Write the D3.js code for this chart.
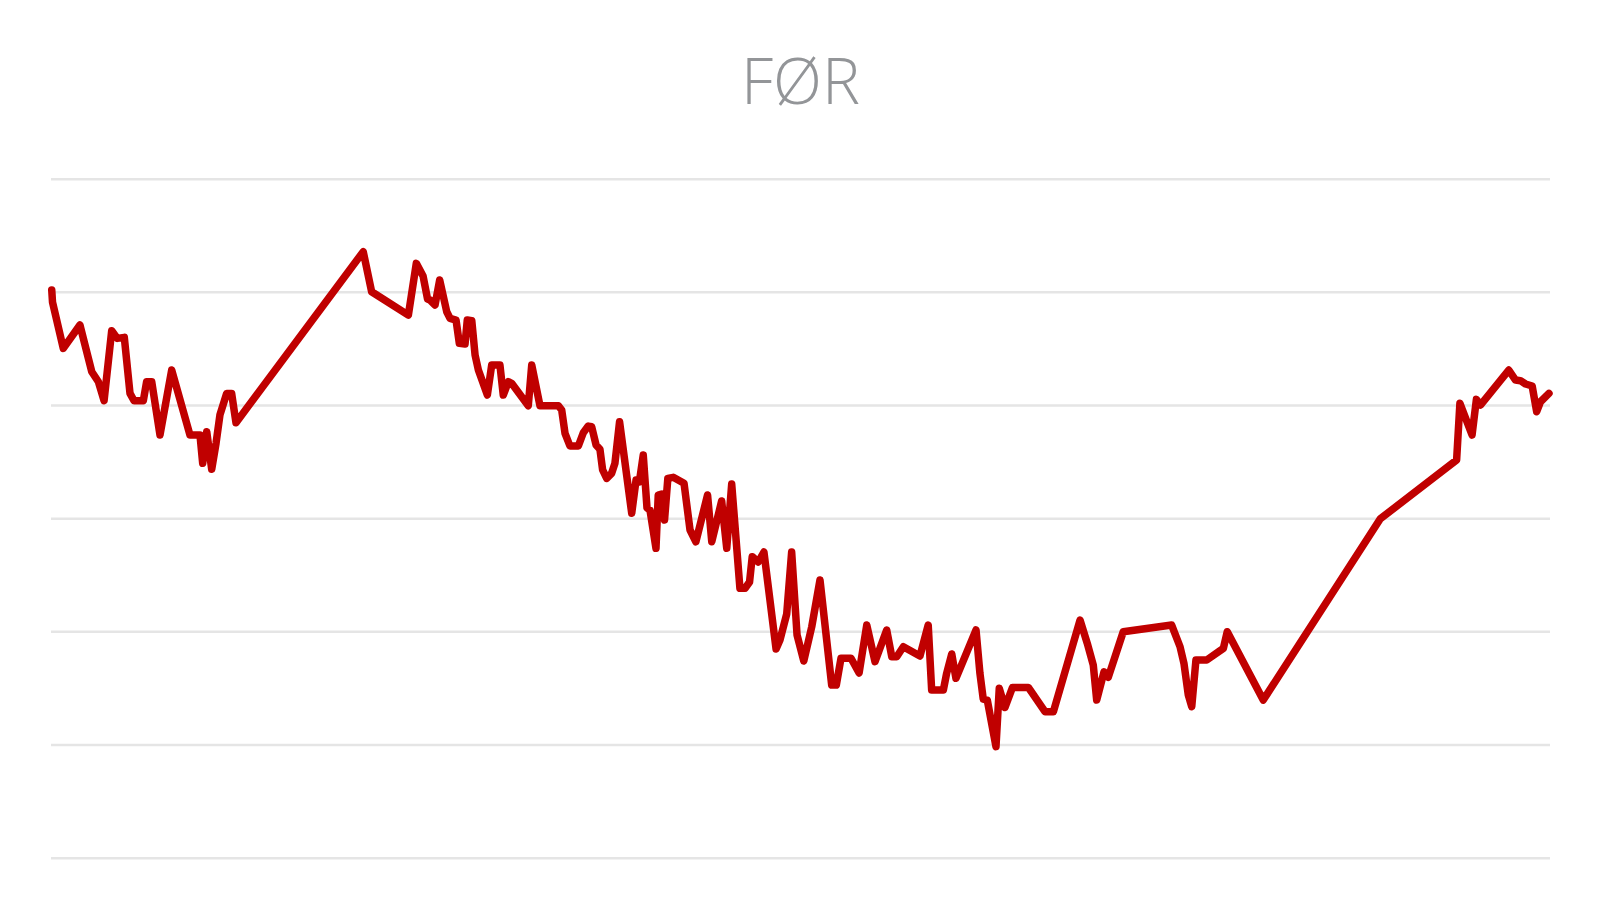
<!DOCTYPE html>
<html>
<head>
<meta charset="utf-8">
<script src="https://cdn.jsdelivr.net/npm/d3@7"></script>
<style>
  html, body { margin: 0; padding: 0; background: #ffffff; }
  svg { display: block; }
</style>
</head>
<body>
<svg id="chart" width="1601" height="909"></svg>
<script>
const title = "FØR";
const yTicks = [0, 10, 20, 30, 40, 50, 60];
const xValues = [0.5,1.0,8.2,19.3,27.2,31.6,35.4,40.5,44.2,48.9,52.7,55.4,61.6,63.8,67.2,72.7,80.5,92.7,99.4,101.2,103.9,107.2,110.1,112.7,117.2,120.5,123.4,
  208.3,213.9,238.4,243.7,248.2,251.2,252.8,256.2,259.3,264.0,266.2,270.2,272.4,276.2,277.7,280.7,282.9,285.1,291.1,294.0,299.5,301.7,305.1,307.3,318.4,320.7,326.2,338.4,340.7,342.9,346.2,351.8,355.1,358.4,360.7,363.6,366.2,368.0,370.7,374.0,376.2,379.3,
  387.4,390.3,392.5,395.1,397.6,399.6,403.6,405.1,407.4,409.3,411.5,415.1,422.3,426.3,430.2,438.0,440.8,447.4,450.8,454.1,459.6,463.0,466.0,467.8,471.8,475.6,483.7,486.3,490.8,494.1,497.7,502.2,507.5,513.0,
  520.8,523.9,527.0,533.7,539.1,544.2,549.7,557.5,560.9,564.2,568.6,579.7,585.2,587.5,595.3,597.5,600.9,603.7,617.1,619.7,621.9,624.6,630.4,632.6,636.4,641.4,652.0,663.1,668.7,
  686.5,691.3,695.3,697.6,702.5,705.3,715.3,747.6,753.2,755.8,758.7,761.0,763.8,771.0,782.1,784.7,808.7,886.8,937.7,939.9,948.0,950.9,953.6,972.5,977.0,980.3,983.7,988.1,991.1,993.7,999.3];
const yValues = [50.16,49.10,45.01,47.07,42.94,42.06,40.38,46.57,45.89,45.98,41.03,40.38,40.38,42.06,42.06,37.35,43.09,37.35,37.35,34.85,37.64,34.32,36.62,39.12,41.03,41.03,38.44,
  53.55,50.01,47.95,52.52,51.40,49.37,49.28,48.84,51.05,48.24,47.66,47.51,45.45,45.39,47.51,47.45,44.42,43.09,40.88,43.53,43.53,40.88,42.06,41.92,39.94,43.53,39.94,39.94,39.56,37.50,36.38,36.38,37.55,38.14,38.08,36.47,36.09,34.26,33.52,33.97,34.85,38.52,
  30.43,33.37,33.22,35.58,30.90,30.72,27.34,32.05,32.14,29.84,33.52,33.61,33.08,28.96,27.92,32.05,27.92,31.52,27.34,33.02,23.80,23.80,24.36,26.60,26.13,27.01,18.44,19.24,21.53,27.01,19.68,17.38,20.41,24.54,
  15.26,15.26,17.62,17.62,16.32,20.56,17.32,20.12,17.76,17.76,18.64,17.82,20.56,14.82,14.82,16.29,18.00,15.85,20.12,16.29,14.02,13.93,9.81,14.97,13.27,15.04,15.04,12.90,12.90,
  21.00,18.94,17.03,13.93,16.43,15.94,19.97,20.56,18.64,17.18,14.38,13.34,17.47,17.47,18.50,19.97,13.93,29.95,35.14,40.15,37.35,40.50,40.00,43.09,42.21,42.15,41.86,41.68,39.41,40.29,41.03];

const svg = d3.select("#chart");
const x = d3.scaleLinear().domain([0, 1000]).range([51, 1550]);
const y = d3.scaleLinear().domain([0, 60]).range([857.7, 178.7]);

svg.append("text")
  .attr("x", 800.5).attr("y", 104)
  .attr("text-anchor", "middle")
  .attr("font-family", "'Open Sans', sans-serif")
  .attr("font-weight", 300)
  .attr("font-size", 64)
  .attr("fill", "#939598")
  .text(title);

const yAxis = d3.axisLeft(y).tickValues(yTicks).tickSize(-(1550 - 51)).tickFormat("");
const gAxis = svg.append("g").attr("transform", "translate(51,0)").call(yAxis);
gAxis.select(".domain").remove();
gAxis.selectAll(".tick line").attr("stroke", "#e5e5e5").attr("stroke-width", 2.5);

const data = xValues.map((d, i) => [d, yValues[i]]);
const line = d3.line().x(d => x(d[0])).y(d => y(d[1]));
svg.append("path")
  .datum(data)
  .attr("d", line)
  .attr("fill", "none")
  .attr("stroke", "#c00000")
  .attr("stroke-width", 7.5)
  .attr("stroke-linejoin", "round")
  .attr("stroke-linecap", "round");
</script>
</body>
</html>
